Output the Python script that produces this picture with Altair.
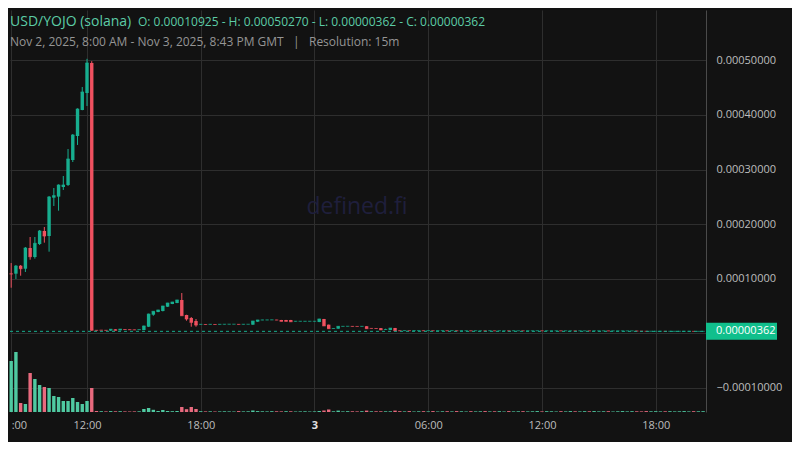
import altair as alt
import pandas as pd

# ---- data (prices in micro-USD, i.e. x 1e-6) ----
opens = [
    109.25, 109.2, 123.8, 118.3, 156.2, 139.7, 163.6, 187.4, 178.2, 248.4,
    250.3, 268.0, 271.6, 317.4, 361.3, 409.0, 440.1, 495.0, 5.8, 6.0,
    5.8, 5.0, 7.3, 5.5, 7.4, 7.0, 6.6, 6.3, 6.0, 12.1,
    34.1, 39.0, 40.8, 48.7, 53.7, 55.5, 61.0, 33.5, 28.0, 22.5,
    16.2, 16.5, 16.2, 16.5, 16.2, 16.5, 16.6, 16.7, 16.7, 16.4,
    16.6, 15.8, 21.3, 24.2, 24.3, 24.4, 24.6, 24.4, 24.4, 24.4,
    21.9, 22.0, 21.9, 22.0, 21.9, 20.7, 26.2, 15.8, 8.6, 8.5,
    12.6, 12.8, 12.9, 12.7, 12.6, 13.0, 9.2, 9.0, 9.5, 6.8,
    6.2, 9.7, 5.0, 4.6, 4.9, 4.8, 5.0, 5.0, 4.7, 4.9,
    4.6, 4.8, 4.9, 4.6, 4.8, 4.5, 4.7, 4.7, 4.4, 4.6,
    4.6, 4.3, 4.6, 4.5, 4.6, 4.6, 4.4, 4.6, 4.6, 4.5,
    4.6, 4.6, 4.7, 4.5, 4.6, 4.6, 4.6, 4.4, 4.5, 4.5,
    4.4, 4.5, 4.5, 4.4, 4.5, 4.5, 4.5, 4.3, 4.4, 4.4,
    4.4, 4.4, 4.4, 4.1, 3.9, 3.8, 3.8, 3.8, 3.8, 3.7,
    3.7, 3.7, 3.7, 3.7, 3.7, 3.62, 3.62,
]
closes = [
    108.6, 123.2, 118.3, 156.2, 140.3, 164.8, 187.4, 178.2, 249.7, 252.1,
    271.6, 271.6, 319.2, 363.2, 410.8, 441.9, 495.0, 5.6, 5.5, 5.8,
    5.5, 7.5, 5.5, 7.7, 7.0, 6.6, 6.3, 6.7, 13.4, 35.3,
    40.3, 42.7, 50.0, 55.5, 57.3, 61.0, 32.2, 26.2, 20.1, 15.2,
    16.5, 16.2, 16.5, 16.2, 16.5, 16.6, 16.7, 16.7, 16.4, 16.6,
    16.6, 22.5, 24.4, 24.5, 24.5, 24.6, 24.3, 22.0, 22.0, 21.2,
    22.1, 22.1, 22.1, 22.1, 22.1, 26.2, 13.6, 8.5, 8.8, 12.8,
    12.8, 12.9, 12.7, 12.6, 12.8, 8.5, 9.0, 8.8, 6.3, 7.0,
    9.5, 4.8, 4.6, 4.9, 4.8, 5.0, 5.0, 4.7, 4.9, 4.6,
    4.8, 4.9, 4.6, 4.8, 4.5, 4.7, 4.7, 4.4, 4.6, 4.6,
    4.3, 4.6, 4.5, 4.6, 4.6, 4.4, 4.6, 4.6, 4.5, 4.6,
    4.6, 4.7, 4.5, 4.6, 4.6, 4.6, 4.4, 4.5, 4.5, 4.4,
    4.5, 4.5, 4.4, 4.5, 4.5, 4.5, 4.3, 4.4, 4.4, 4.4,
    4.4, 4.4, 4.1, 3.9, 3.8, 3.8, 3.8, 3.8, 3.7, 3.7,
    3.7, 3.7, 3.7, 3.7, 3.62, 3.62, 3.62,
]
highs = [
    128.7, 125.1, 125.1, 158.1, 176.4, 176.4, 189.2, 194.7, 251.5, 266.1,
    272.8, 288.1, 337.5, 365.0, 412.0, 451.1, 502.7, 498.5, 5.9, 6.1,
    5.9, 7.9, 7.5, 7.9, 7.5, 7.1, 6.7, 6.8, 14.0, 36.0,
    40.6, 43.0, 50.2, 55.8, 57.6, 61.3, 73.8, 34.0, 29.8, 26.2,
    16.7, 16.7, 16.7, 16.7, 16.7, 16.8, 16.9, 16.9, 16.9, 16.8,
    16.8, 22.7, 24.6, 24.7, 24.7, 24.8, 24.7, 24.6, 24.6, 24.6,
    22.3, 22.3, 22.3, 22.3, 22.3, 26.6, 26.4, 16.0, 9.0, 13.0,
    13.0, 13.1, 13.1, 12.9, 13.0, 13.2, 9.4, 9.2, 9.7, 8.4,
    9.7, 9.9, 5.1, 5.0, 5.0, 5.1, 5.1, 5.1, 5.0, 5.0,
    4.9, 5.0, 5.0, 4.9, 4.9, 4.8, 4.8, 4.8, 4.7, 4.7,
    4.7, 4.7, 4.7, 4.7, 4.7, 4.7, 4.7, 4.7, 4.7, 4.7,
    4.7, 4.8, 4.8, 4.7, 4.7, 4.7, 4.7, 4.6, 4.6, 4.6,
    4.6, 4.6, 4.6, 4.6, 4.6, 4.6, 4.6, 4.5, 4.5, 4.5,
    4.5, 4.5, 4.5, 4.2, 4.0, 3.9, 3.9, 3.9, 3.9, 3.8,
    3.8, 3.8, 3.8, 3.8, 3.8, 3.7, 3.7,
]
lows = [
    83.5, 99.4, 105.5, 112.3, 134.8, 136.7, 161.7, 166.0, 149.5, 233.2,
    224.6, 262.5, 269.8, 313.7, 344.9, 408.5, 416.3, 4.5, 5.3, 5.6,
    5.3, 4.2, 5.3, 5.3, 6.8, 6.4, 6.1, 6.1, 5.8, 11.5,
    32.2, 38.6, 40.2, 48.3, 53.4, 55.2, 32.0, 23.1, 12.1, 12.1,
    16.0, 16.0, 16.0, 16.0, 16.0, 16.3, 16.4, 16.5, 16.2, 16.2,
    16.4, 15.5, 21.0, 24.0, 24.1, 24.2, 24.1, 21.8, 21.8, 20.8,
    21.7, 21.8, 21.7, 21.8, 21.7, 20.4, 13.4, 8.3, 8.4, 8.3,
    12.4, 12.6, 12.5, 12.4, 12.4, 8.3, 8.8, 8.6, 6.1, 6.6,
    6.0, 4.6, 4.5, 4.5, 4.7, 4.7, 4.9, 4.6, 4.6, 4.5,
    4.5, 4.7, 4.5, 4.5, 4.4, 4.4, 4.6, 4.3, 4.3, 4.5,
    4.2, 4.2, 4.4, 4.4, 4.5, 4.3, 4.3, 4.5, 4.4, 4.4,
    4.5, 4.5, 4.4, 4.4, 4.5, 4.5, 4.3, 4.3, 4.4, 4.3,
    4.3, 4.4, 4.3, 4.3, 4.4, 4.4, 4.2, 4.2, 4.3, 4.3,
    4.3, 4.3, 4.0, 3.8, 3.7, 3.7, 3.7, 3.7, 3.62, 3.62,
    3.62, 3.62, 3.62, 3.62, 3.62, 3.62, 3.62,
]
# volume (thousand USD, estimated)
volumes = [
    51, 60, 9, 8, 39, 33, 27, 25, 24, 16,
    15, 11, 11, 14, 10, 8, 11, 24, 1.0, 0.8,
    0.6, 0.9, 0.7, 0.8, 0.6, 0.5, 0.6, 0.7, 3.0, 4.0,
    2.2, 1.0, 2.0, 1.0, 0.8, 1.0, 5.0, 2.8, 5.0, 3.0,
    0.8, 0.6, 0.7, 0.5, 0.6, 0.7, 0.6, 0.5, 0.9, 0.6,
    0.7, 1.5, 0.9, 0.7, 0.6, 0.8, 0.7, 0.6, 0.8, 0.7,
    0.5, 0.6, 0.7, 0.5, 0.6, 1.0, 1.5, 2.5, 0.7, 1.4,
    0.6, 0.8, 0.7, 0.6, 0.8, 1.4, 0.7, 0.7, 0.7, 0.7,
    0.7, 1.4, 0.8, 0.6, 0.9, 0.5, 0.7, 0.8, 0.6, 0.9,
    0.5, 0.7, 0.8, 0.6, 0.9, 0.7, 0.5, 0.8, 0.6, 0.7,
    0.9, 0.6, 0.7, 0.8, 0.5, 0.9, 0.6, 0.7, 0.8, 0.6,
    0.7, 0.9, 0.6, 0.8, 0.7, 0.5, 0.8, 0.6, 0.9, 0.7,
    0.6, 0.8, 0.7, 0.9, 0.6, 0.7, 0.8, 0.5, 0.7, 0.9,
    0.6, 0.8, 0.7, 0.6, 0.9, 0.7, 0.8, 0.6, 0.7, 0.8,
    0.6, 0.7, 0.9, 0.6, 0.8, 0.7, 0.8,
]
tick_hours = [8, 12, 18, 24, 30, 36, 42]
price_ticks = [-0.0001, 0.0, 0.0001, 0.0002, 0.0003, 0.0004, 0.0005]

# 15-minute candles starting Nov 2, 08:00 (hours since Nov 2, 00:00 GMT)
hours = [8 + 0.25 * i for i in range(len(opens))]

df = pd.DataFrame({
    "t": hours,
    "o": [v * 1e-6 for v in opens],
    "h": [v * 1e-6 for v in highs],
    "l": [v * 1e-6 for v in lows],
    "c": [v * 1e-6 for v in closes],
    "v": volumes,
})
# volume bars coloured by close versus previous close
df["vup"] = df["c"] >= df["c"].shift(1).fillna(0)
last_df = pd.DataFrame({"p": [closes[-1] * 1e-6]})
one = pd.DataFrame({"a": [0]})

GREEN = "#17ae8f"
RED = "#ef5160"
VOL_GREEN = "#4fc9a1"
VOL_RED = "#e86a7e"
BG = "#121212"
GRID = "#2e2e2e"
LABEL = "#bdbdbd"
TITLE_GREEN = "#5ccca6"
FONT = "Open Sans"
W, H = 696, 402

xscale = alt.Scale(domain=[7.938, 44.653], nice=False, zero=False, padding=0)
xaxis = alt.Axis(
    values=tick_hours,
    labelExpr="datum.value == 8 ? ':00' : datum.value == 24 ? '3' : "
              "((datum.value % 24) < 10 ? '0' : '') + (datum.value % 24) + ':00'",
    grid=True, gridColor=GRID, domain=False, ticks=False,
    labelPadding=7, labelFontSize=11, labelFont=FONT,
    labelColor={"condition": {"test": "datum.value == 24", "value": "#e0e0e0"}, "value": LABEL},
    labelFontWeight={"condition": {"test": "datum.value == 24", "value": "bold"}, "value": "normal"},
    labelAlign={"condition": {"test": "datum.value == 8", "value": "left"}, "value": "center"},
)
X = alt.X("t:Q", scale=xscale, axis=xaxis, title=None)

yscale = alt.Scale(domain=[-0.0001441, 0.0005921], nice=False, zero=False, padding=0)
yaxis = alt.Axis(
    orient="right", values=price_ticks, format=".8f",
    labelExpr="datum.value == 0 ? '' : datum.label",
    grid=True, gridColor=GRID, domain=True, domainColor="#4a4a4a",
    ticks=False, labelPadding=10, labelFontSize=11, labelFont=FONT, labelColor=LABEL,
)


def py(field):
    return alt.Y(field, scale=yscale, axis=yaxis, title=None)


up = "datum.c >= datum.o"
ccol = alt.condition(up, alt.value(GREEN), alt.value(RED))
vcol = alt.condition("datum.vup", alt.value(VOL_GREEN), alt.value(VOL_RED))

base = alt.Chart(df)

vol = base.mark_bar(size=3.4).encode(
    x=X,
    y=alt.Y("v:Q", scale=alt.Scale(domain=[0, 402], nice=False, padding=0), axis=None, title=None),
    color=vcol,
)

wick = base.mark_rule(strokeWidth=1).encode(x=X, y=py("l:Q"), y2="h:Q", color=ccol)
body = base.mark_bar(size=3.4).encode(x=X, y=py("o:Q"), y2="c:Q", color=ccol)
dash = base.mark_tick(orient="horizontal", size=3.4, thickness=1).encode(x=X, y=py("c:Q"), color=ccol)

pline = alt.Chart(last_df).mark_rule(strokeDash=[3, 3], strokeWidth=1, color=GREEN).encode(
    y=py("p:Q"), x=alt.value(0), x2=alt.value(W)
)
tag = alt.Chart(last_df).mark_rule(strokeWidth=17, color="#10bf8c").encode(
    y=py("p:Q"), x=alt.value(W), x2=alt.value(W + 71)
)
tagtext = alt.Chart(last_df).mark_text(
    align="left", baseline="middle", color="#ffffff", fontSize=11, font=FONT
).encode(y=py("p:Q"), x=alt.value(W + 10), text=alt.Text("p:Q", format=".8f"))

price = alt.layer(wick, body, dash, pline, tag, tagtext)

ohlc = "O: {:.8f} - H: {:.8f} - L: {:.8f} - C: {:.8f}".format(
    opens[0] * 1e-6, max(highs) * 1e-6, min(lows) * 1e-6, closes[-1] * 1e-6
)
t1 = alt.Chart(one).mark_text(text="USD/YOJO (solana)", align="left", baseline="alphabetic",
                              fontSize=14, font=FONT, color=TITLE_GREEN).encode(
    x=alt.value(0), y=alt.value(15.5))
t2 = alt.Chart(one).mark_text(text=ohlc, align="left", baseline="alphabetic",
                              fontSize=12, font=FONT, color=TITLE_GREEN).encode(
    x=alt.value(128), y=alt.value(15.5))
t3 = alt.Chart(one).mark_text(
    text="Nov 2, 2025, 8:00 AM - Nov 3, 2025, 8:43 PM GMT\u00a0\u00a0\u00a0|\u00a0\u00a0\u00a0Resolution: 15m",
    align="left", baseline="alphabetic", fontSize=12, font=FONT, color="#959595").encode(
    x=alt.value(0), y=alt.value(35.7))
wm = alt.Chart(one).mark_text(text="defined.fi", align="center", baseline="middle",
                              fontSize=23, font=FONT, color="#1f1f3c").encode(
    x=alt.value(347), y=alt.value(197))

chart = alt.layer(wm, vol, price, t1, t2, t3).resolve_scale(y="independent").properties(
    width=W, height=H,
    autosize=alt.AutoSizeParams(type="none"),
    padding={"left": 2, "top": 2, "right": 86, "bottom": 30},
).configure(background=BG).configure_view(strokeWidth=0)

chart.save("out.html", embed_options={"renderer": "svg", "actions": False})
